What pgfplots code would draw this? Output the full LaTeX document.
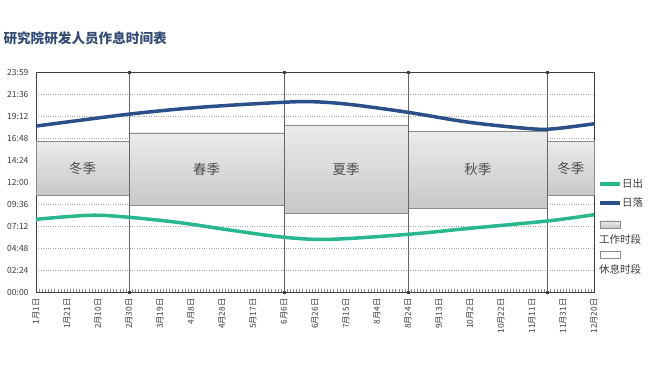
\documentclass[border=0pt]{standalone}
\usepackage{pgfplots}
\pgfplotsset{compat=1.18}
\usepackage{fontspec}
\setmainfont{Noto Sans CJK SC}
\definecolor{sunrise}{RGB}{42,183,143}
\definecolor{sunset}{RGB}{43,80,137}
\definecolor{titlec}{RGB}{52,76,116}
\definecolor{txt}{RGB}{60,60,60}
\definecolor{boxtop}{RGB}{234,235,235}
\definecolor{boxbot}{RGB}{200,200,200}
\definecolor{boxline}{RGB}{140,140,140}
\begin{document}
\begin{tikzpicture}
\useasboundingbox (0,0) rectangle (650pt,377pt);
\node[anchor=west, text=titlec, font=\fontsize{13.6}{15}\selectfont\bfseries] at (0pt,339pt) {研究院研发人员作息时间表};
\begin{axis}[
  at={(36pt,85pt)}, anchor=south west,
  scale only axis, width=558pt, height=220pt,
  xmin=0, xmax=360, ymin=0, ymax=24,
  axis line style={draw=black!75, line width=0.8pt},
  xtick={0,20,...,360},
  xticklabels={1月1日,1月21日,2月10日,2月30日,3月19日,4月8日,4月28日,5月17日,6月6日,6月26日,7月15日,8月4日,8月24日,9月13日,10月2日,10月22日,11月11日,11月31日,12月20日},
  x tick label style={rotate=90, anchor=east, font=\fontsize{8.3}{9}\selectfont, text=txt, xshift=-3pt},
  minor x tick num=9,
  tick align=inside,
  major tick length=3pt, minor tick length=2.5pt,
  xtick pos=bottom,
  x tick style={draw=black!45, line width=0.4pt},
  ytick={0,2.4,4.8,7.2,9.6,12,14.4,16.8,19.2,21.6,24},
  yticklabels={00:00,02:24,04:48,07:12,09:36,12:00,14:24,16:48,19:12,21:36,23:59},
  y tick label style={font=\fontsize{8.5}{9}\selectfont, text=txt, xshift=-4pt},
  y tick style={draw=none},
  ymajorgrids, grid style={dotted, draw=black!35, line width=0.5pt},
  /pgf/number format/assume math mode=true,
  clip=false,
]
% season boxes
\addplot[draw=boxline, line width=0.8pt, top color=boxtop, bottom color=boxbot] coordinates {(0,10.5)(60,10.5)(60,16.45)(0,16.45)} -- cycle;
\addplot[draw=boxline, line width=0.8pt, top color=boxtop, bottom color=boxbot] coordinates {(60,9.4)(160,9.4)(160,17.35)(60,17.35)} -- cycle;
\addplot[draw=boxline, line width=0.8pt, top color=boxtop, bottom color=boxbot] coordinates {(160,8.58)(240,8.58)(240,18.2)(160,18.2)} -- cycle;
\addplot[draw=boxline, line width=0.8pt, top color=boxtop, bottom color=boxbot] coordinates {(240,9.13)(330,9.13)(330,17.5)(240,17.5)} -- cycle;
\addplot[draw=boxline, line width=0.8pt, top color=boxtop, bottom color=boxbot] coordinates {(330,10.5)(360,10.5)(360,16.45)(330,16.45)} -- cycle;
% season dividers
\addplot[draw=black!60, line width=0.8pt, mark=square*, mark size=1pt, mark options={fill=black!75, draw=black!75}, unbounded coords=jump] coordinates {(60,0)(60,24) (60,nan) (160,0)(160,24) (160,nan) (240,0)(240,24) (240,nan) (330,0)(330,24)};
% season labels
\node[font=\fontsize{13.5}{14}\selectfont, text=black!70] at (axis cs:30,13.45) {冬季};
\node[font=\fontsize{13.5}{14}\selectfont, text=black!70] at (axis cs:110,13.4) {春季};
\node[font=\fontsize{13.5}{14}\selectfont, text=black!70] at (axis cs:200,13.4) {夏季};
\node[font=\fontsize{13.5}{14}\selectfont, text=black!70] at (axis cs:285,13.4) {秋季};
\node[font=\fontsize{13.5}{14}\selectfont, text=black!70] at (axis cs:345,13.45) {冬季};
% sunset
\addplot[sunset, line width=3.5pt, smooth, tension=0.55] coordinates {
 (0,18.1)(60,19.4)(106,20.15)(160,20.7)(180,20.75)(203,20.45)(240,19.6)(280,18.5)(320,17.8)(335,17.82)(360,18.35)};
% sunrise
\addplot[sunrise, line width=3.5pt, smooth, tension=0.55] coordinates {
 (0,7.93)(35,8.37)(60,8.15)(93,7.56)(125,6.76)(160,5.97)(190,5.75)(240,6.29)(280,6.95)(330,7.75)(360,8.43)};
\end{axis}
% legend
\begin{scope}[font=\fontsize{10.5}{11}\selectfont, text=txt]
\draw[sunrise, line width=3.5pt] (600pt,193pt) -- (620pt,193pt);
\node[anchor=west, inner sep=1pt] at (621pt,193pt) {日出};
\draw[sunset, line width=3.5pt] (600pt,174pt) -- (620pt,174pt);
\node[anchor=west, inner sep=1pt] at (621pt,174pt) {日落};
\draw[boxline, line width=0.6pt, top color=boxtop, bottom color=boxbot] (600.5pt,149pt) rectangle (620.5pt,156pt);
\node[anchor=west, inner sep=1pt] at (598pt,137pt) {工作时段};
\draw[boxline, line width=0.6pt, fill=white] (600.5pt,119pt) rectangle (620.5pt,126pt);
\node[anchor=west, inner sep=1pt] at (598pt,108pt) {休息时段};
\end{scope}
\end{tikzpicture}
\end{document}
